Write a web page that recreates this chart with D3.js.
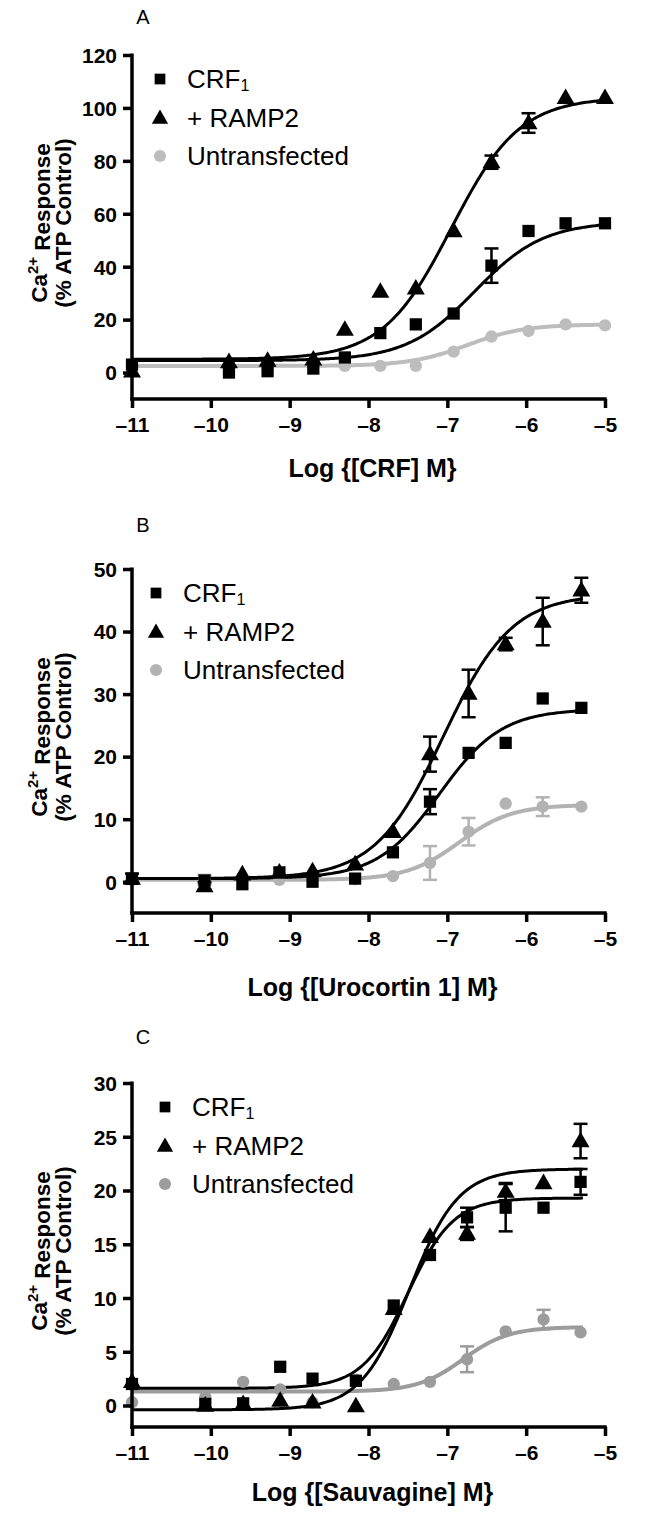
<!DOCTYPE html>
<html>
<head>
<meta charset="utf-8">
<script src="https://cdn.jsdelivr.net/npm/d3@7"></script>
<style>
  html, body { margin: 0; padding: 0; background: #fff; }
  svg { display: block; }
  text { font-family: "Liberation Sans", Arial, Helvetica, sans-serif; }
</style>
</head>
<body>
<svg id="chart" width="670" height="1514"></svg>
<script>
// ---------------- DATA ----------------
const panelLetters = ["A", "B", "C"];
const xTitles = ["Log {[CRF] M}", "Log {[Urocortin 1] M}", "Log {[Sauvagine] M}"];
const seriesNames = ["CRF", "+ RAMP2", "Untransfected"];
const xTicks = [-11, -10, -9, -8, -7, -6, -5];
const xDomain = [-11, -5];

const yDomainA = [-10, 120];
const yTicksA = [0, 20, 40, 60, 80, 100, 120];
const yDomainB = [-5, 50];
const yTicksB = [0, 10, 20, 30, 40, 50];
const yDomainC = [-2, 30];
const yTicksC = [0, 5, 10, 15, 20, 25, 30];

// Panel A : CRF
const logConcA = [-11, -9.77, -9.28, -8.7, -8.3, -7.85, -7.4, -6.92, -6.44, -5.97, -5.5, -5.0];
const crfA     = [3, 0, 0.5, 1.5, 5.7, 14.9, 18.2, 22.3, 40.4, 53.5, 56.4, 56.4];
const crfErrA  = [0, 0, 0, 0, 0, 0, 0, 0, 6.5, 0, 0, 0];
const rampA    = [0.5, 4, 4.5, 5, 16.2, 30.6, 31.8, 53.5, 79.5, 94.3, 103.8, 103.8];
const rampErrA = [0, 0, 0, 0, 0, 0, 0, 0, 2.5, 3.7, 0, 0];
const untA     = [2, 1.5, 1.5, 2.5, 2.5, 2.5, 2.5, 7.9, 13.6, 15.7, 18.2, 17.8];
const untErrA  = [0, 0, 0, 0, 0, 0, 0, 0, 0, 0, 0, 0];
// fitted curve parameters [bottom, top, logEC50, hill]
const crfFitA  = [4.5, 57, -6.65, 1.0];
const rampFitA = [5, 104, -6.95, 1.0];
const untFitA  = [2.5, 18.2, -6.75, 1.2];

// Panel B : Urocortin 1
const logConcB = [-11, -10.08, -9.6, -9.13, -8.71, -8.17, -7.69, -7.22, -6.73, -6.26, -5.79, -5.30];
const crfB     = [0.5, 0.2, -0.4, 1.5, 0, 0.5, 4.7, 12.8, 20.6, 22.2, 29.3, 27.8];
const crfErrB  = [0, 0, 0, 0, 0, 0, 0, 2.0, 0, 0, 0, 0];
const rampB    = [0.5, -0.7, 1.2, 1.5, 1.7, 2.8, 8, 20.4, 30.1, 38, 41.6, 46.6];
const rampErrB = [0.8, 0.6, 0, 0, 0, 0, 0, 2.8, 3.8, 1.0, 3.8, 2.0];
const untB     = [0.3, 0.3, 0.3, 0.3, 0.3, 0.4, 0.9, 3.0, 8, 12.5, 12, 12];
const untErrB  = [0, 0.8, 0, 0, 0, 0, 0, 2.7, 2.2, 0, 1.5, 0];
const crfFitB  = [0.5, 27.6, -7.1, 1.1];
const rampFitB = [0.5, 46, -7.05, 1.0];
const untFitB  = [0.3, 12.3, -6.85, 1.3];

// Panel C : Sauvagine
const logConcC = [-11, -10.07, -9.59, -9.12, -8.71, -8.16, -7.68, -7.22, -6.75, -6.26, -5.78, -5.31];
const crfC     = [2.0, 0.15, 0.2, 3.6, 2.5, 2.3, 9.3, 14.0, 17.5, 18.4, 18.4, 20.8];
const crfErrC  = [0, 0, 0, 0, 0, 0, 0, 0, 0.9, 2.2, 0, 1.2];
const rampC    = [2.2, 0, 0.15, 0.45, 0.3, -0.06, 9.0, 15.7, 16.0, 19.9, 20.7, 24.6];
const rampErrC = [0, 0, 0, 0, 0, 0, 0, 0, 0.6, 0.8, 0, 1.6];
const untC     = [0.3, 0.8, 2.2, 1.5, 0.3, 2.4, 2.0, 2.2, 4.3, 6.9, 8.0, 6.8];
const untErrC  = [0, 0, 0, 0, 0, 0, 0, 0, 1.2, 0, 0.9, 0];
const crfFitC  = [1.6, 19.3, -7.5, 1.5];
const rampFitC = [-0.4, 22, -7.48, 1.4];
const untFitC  = [1.3, 7.3, -6.8, 1.5];

// ---------------- LAYOUT / STYLE ----------------
const FONT = '"Liberation Sans", Arial, Helvetica, sans-serif';
const BLACK = "#000";
const panels = [
  { top: 55,   height: 344, yDomain: yDomainA, yTicks: yTicksA, conc: logConcA,
    series: [[crfA, crfErrA, crfFitA], [rampA, rampErrA, rampFitA], [untA, untErrA, untFitA]],
    xEnd: -5.0, legendX: 160, letterY: 17, titleY: 468, grey: "#bdbdbd" },
  { top: 569,  height: 344, yDomain: yDomainB, yTicks: yTicksB, conc: logConcB,
    series: [[crfB, crfErrB, crfFitB], [rampB, rampErrB, rampFitB], [untB, untErrB, untFitB]],
    xEnd: -5.28, legendX: 156, letterY: 525, titleY: 987, grey: "#b3b3b3" },
  { top: 1083, height: 344, yDomain: yDomainC, yTicks: yTicksC, conc: logConcC,
    series: [[crfC, crfErrC, crfFitC], [rampC, rampErrC, rampFitC], [untC, untErrC, untFitC]],
    xEnd: -5.28, legendX: 165, letterY: 1037, titleY: 1492, grey: "#9c9c9c" }
];
const left = 132, right = 605;

const svg = d3.select("#chart");

function logistic(p, x) {
  const [bottom, top, ec50, hill] = p;
  return bottom + (top - bottom) / (1 + Math.pow(10, (ec50 - x) * hill));
}

function fmtTick(d) {
  return d < 0 ? "\u2013" + Math.abs(d) : String(d);
}

panels.forEach((P, pi) => {
  const x = d3.scaleLinear().domain(xDomain).range([left, right]);
  const y = d3.scaleLinear().domain(P.yDomain).range([P.top + P.height, P.top]);
  const g = svg.append("g");
  const colors = [BLACK, BLACK, P.grey];

  // Panel letter
  g.append("text")
    .attr("x", 143).attr("y", P.letterY)
    .attr("text-anchor", "middle").attr("dominant-baseline", "central")
    .style("font-size", "20px").style("font-family", FONT)
    .text(panelLetters[pi]);

  // Clip
  const clipId = "clip" + pi;
  svg.append("clipPath").attr("id", clipId)
    .append("rect").attr("x", left).attr("y", P.top - 10)
    .attr("width", right - left + 10).attr("height", P.height + 10);

  // Curves (grey first, then black)
  [2, 0, 1].forEach(si => {
    const fit = P.series[si][2];
    const xs = d3.range(-11, P.xEnd + 0.0001, 0.02);
    const line = d3.line().x(d => x(d)).y(d => y(logistic(fit, d)));
    g.append("path")
      .attr("clip-path", `url(#${clipId})`)
      .attr("d", line(xs))
      .attr("fill", "none")
      .attr("stroke", colors[si])
      .attr("stroke-width", si === 2 ? 4 : 3);
  });

  // Error bars + markers
  const symbols = [d3.symbolSquare, d3.symbolTriangle, d3.symbolCircle];
  const sizes = [150, 140, 120];
  [2, 0, 1].forEach(si => {
    const vals = P.series[si][0], errs = P.series[si][1];
    P.conc.forEach((c, i) => {
      const cx = x(c), cy = y(vals[i]);
      const e = errs[i];
      if (e > 0) {
        const y1 = y(vals[i] + e), y2 = y(vals[i] - e);
        g.append("line").attr("x1", cx).attr("x2", cx).attr("y1", y1).attr("y2", y2)
          .attr("stroke", colors[si]).attr("stroke-width", 2.5);
        [y1, y2].forEach(yy => g.append("line")
          .attr("x1", cx - 7).attr("x2", cx + 7).attr("y1", yy).attr("y2", yy)
          .attr("stroke", colors[si]).attr("stroke-width", 2.5));
      }
      g.append("path")
        .attr("d", d3.symbol().type(symbols[si]).size(sizes[si])())
        .attr("transform", `translate(${cx},${cy + (si === 1 ? 1 : 0)})`)
        .attr("fill", colors[si]);
    });
  });

  // Axes
  const yAxis = d3.axisLeft(y).tickValues(P.yTicks).tickFormat(fmtTick)
    .tickSize(9).tickSizeOuter(0).tickPadding(6);
  const yg = g.append("g").attr("transform", `translate(${left},0)`).call(yAxis);
  const xAxis = d3.axisBottom(x).tickValues(xTicks).tickFormat(fmtTick)
    .tickSize(9).tickSizeOuter(0).tickPadding(9);
  const xg = g.append("g").attr("transform", `translate(0,${P.top + P.height})`).call(xAxis);
  [yg, xg].forEach(ax => {
    ax.select(".domain").remove();
    ax.selectAll(".tick line").attr("stroke", BLACK).attr("stroke-width", 3.5);
    ax.selectAll(".tick text").attr("fill", BLACK)
      .style("font-size", "21px").style("font-weight", "bold").style("font-family", FONT);
  });
  yg.selectAll(".tick text").attr("dy", "0.35em");
  // axis lines
  g.append("line").attr("x1", left).attr("x2", left)
    .attr("y1", y(P.yDomain[1]) - 1.5).attr("y2", y(P.yDomain[0]) + 1.75)
    .attr("stroke", BLACK).attr("stroke-width", 3.5);
  g.append("line").attr("x1", left - 1.75).attr("x2", right + 1.75)
    .attr("y1", y(P.yDomain[0])).attr("y2", y(P.yDomain[0]))
    .attr("stroke", BLACK).attr("stroke-width", 3.5);

  // X title
  g.append("text")
    .attr("x", (left + right) / 2 + 4).attr("y", P.titleY)
    .attr("text-anchor", "middle").attr("dominant-baseline", "central")
    .style("font-size", "25px").style("font-weight", "bold").style("font-family", FONT)
    .text(xTitles[pi]);

  // Y title (two lines, rotated)
  const cy = P.top + P.height / 2 - 4;
  const t1 = g.append("text")
    .attr("transform", `translate(39,${cy}) rotate(-90)`)
    .attr("text-anchor", "middle").attr("dominant-baseline", "central")
    .style("font-size", "22.5px").style("font-weight", "bold").style("font-family", FONT);
  t1.append("tspan").text("Ca");
  t1.append("tspan").attr("dy", "-0.45em").style("font-size", "15px").text("2+");
  t1.append("tspan").attr("dy", "0.45em").text(" Response");
  g.append("text")
    .attr("transform", `translate(63,${cy}) rotate(-90)`)
    .attr("text-anchor", "middle").attr("dominant-baseline", "central")
    .style("font-size", "22.5px").style("font-weight", "bold").style("font-family", FONT)
    .text("(% ATP Control)");

  // Legend
  const legOff = [24, 63, 101];
  seriesNames.forEach((name, si) => {
    const ly = P.top + legOff[si];
    g.append("path")
      .attr("d", d3.symbol().type(symbols[si]).size(si === 1 ? 115 : 115)())
      .attr("transform", `translate(${P.legendX},${ly + (si === 1 ? 1 : 0)})`)
      .attr("fill", colors[si]);
    const t = g.append("text")
      .attr("x", P.legendX + 27).attr("y", ly)
      .attr("dominant-baseline", "central")
      .style("font-size", "26px").style("font-family", FONT);
    t.append("tspan").text(name);
    if (si === 0) {
      t.append("tspan").attr("dy", "0.4em").style("font-size", "16px").text("1");
    }
  });
});
</script>
</body>
</html>
